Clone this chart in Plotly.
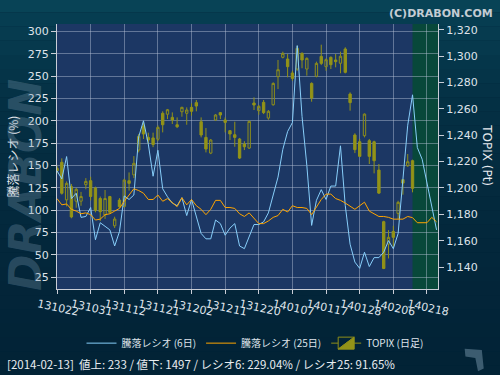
import plotly.graph_objects as go

# ---- data ----
dates = ["131022","131023","131024","131025","131028","131029","131030","131031","131101","131105",
         "131106","131107","131108","131111","131112","131113","131114","131115","131118","131119",
         "131120","131121","131122","131125","131126","131127","131128","131129","131202","131203",
         "131204","131205","131206","131209","131210","131211","131212","131213","131216","131217",
         "131218","131219","131220","131224","131225","131226","131227","131230","140106","140107",
         "140108","140109","140110","140114","140115","140116","140117","140120","140121","140122",
         "140123","140124","140127","140128","140129","140130","140131","140203","140204","140205",
         "140206","140207","140210","140212","140213","140214","140217","140218","140219","140220"]

ratio6 = [144,135,160,113,119,92,93,103,67,86,
          82,78,60,76,116,112,117,182,200,174,
          138,167,124,115,108,105,114,94,112,92,
          74,68,68,89,85,72,80,85,60,57,
          70,84,84,87,97,117,137,168,188,198,
          284,205,150,83,111,123,112,127,127,172,
          105,62,42,35,53,37,47,47,53,66,
          57,74,135,195,229.04,170,157,130,105,78]

ratio25 = [113,106,107,101,99,96,97,95,89,90,
           95,96,99,102,110,117,124,122,119,112,
           112,117,110,113,108,104,114,106,112,105,
           101,95,101,111,111,103,103,102,96,93,
           97,91,85,85,88,92,94,101,98,105,
           103,103,102,95,104,112,118,118,113,111,
           108,104,101,105,109,99,96,93,93,92,
           90,90,90,93,91.65,86,86,86,92,87]

topix_open = [1215,1219.5,1191,1201,1190,1190,1202.5,1205.5,1200,1192,
              1179.5,1193.5,1171.3,1190.8,1186,1205.5,1210,1228.8,1247,1238.4,
              1238,1237,1256.7,1256,1253.6,1248,1257.9,1256.7,1261.2,1264.8,
              1250.3,1238.4,1226.5,1251.6,1257.2,1251.6,1243.5,1240.4,1237.2,1233.4,
              1230.3,1264.5,1258.7,1265,1253.1,1263.2,1284.5,1299.2,1297.9,1287.3,
              1290.3,1302.2,1290.3,1279.4,1284.8,1299.9,1292.1,1299.2,1297.2,1294.7,
              1305.5,1271.3,1240.2,1235.1,1239.7,1235.9,1235.1,1213.6,1174.4,1157.4,
              1167,1180.7,1206.3,1216.9,1220.7]
topix_high = [1217,1222.5,1205,1203,1200,1197,1207.5,1208.5,1201,1193.5,
              1198.5,1194,1178.2,1192.3,1207,1211.8,1224.2,1241,1250.6,1242,
              1242,1247.5,1258.2,1260,1257.4,1253.6,1261.7,1261.2,1264.2,1266.8,
              1253.6,1245.5,1237.2,1256.1,1257.7,1253.6,1244,1250.3,1238,1235.5,
              1251.1,1268.8,1263,1266.8,1259.2,1280.2,1297.2,1303.5,1301.7,1289,
              1308,1303,1299.2,1280.2,1295.9,1308.8,1298.4,1299.9,1301.7,1303.5,
              1306.8,1272.6,1241.5,1237.2,1256.6,1237.2,1235.9,1218.2,1175.1,1168,
              1171.3,1190.3,1206.8,1225.8,1221.5]
topix_low = [1211,1195,1186,1177,1185,1186.5,1199,1190.5,1181.5,1175,
             1176.5,1180.5,1169.6,1185.2,1185.2,1198,1207.5,1227,1237.2,1233.4,
             1231,1235.5,1242.2,1252.3,1248.6,1245.5,1254.1,1248,1254.9,1258.2,
             1238.4,1227,1225.7,1251.1,1252.3,1242.2,1236.4,1231.3,1222,1228.8,
             1229.6,1259.2,1255.6,1256.1,1251.8,1262.5,1275.1,1298.4,1284,1281.4,
             1289,1290.9,1285.3,1265.5,1284,1293.3,1289,1290.3,1291.6,1287.1,
             1287,1258.7,1226.5,1223.7,1238.4,1218.2,1211.1,1195.4,1138.4,1146.5,
             1155.4,1176.4,1194.9,1216,1196.7]
topix_close = [1213,1196,1203.5,1178,1199,1193.5,1205,1193.5,1183,1182,
               1192,1181.5,1176.4,1185.8,1206,1203.5,1218.7,1239.2,1241,1236.4,
               1233,1246,1248,1259.4,1251.6,1246.5,1261.2,1259.2,1258.2,1262.2,
               1240.2,1229.6,1236.4,1255.4,1255.4,1249.8,1241,1238.4,1222.7,1231.3,
               1250.6,1263,1262,1257.2,1258.2,1279.4,1289.8,1302.2,1292.1,1283.2,
               1306,1297.2,1298.4,1268.3,1294.6,1294.6,1297.4,1293.6,1295.9,1300,
               1287.8,1264.8,1229.1,1224,1256.1,1224,1220.7,1196.1,1138.9,1162.5,
               1162.5,1189.1,1203.7,1219.9,1199.7]

tick_idx = list(range(0, 80, 7))
tick_labels = [dates[i] for i in tick_idx]
left_ticks = [25, 50, 75, 100, 125, 150, 175, 200, 225, 250, 275, 300]
right_ticks = [1140, 1160, 1180, 1200, 1220, 1240, 1260, 1280, 1300, 1320]
right_labels = ["{:,}".format(v) for v in right_ticks]
selected_idx = dates.index("140213")

FONT = "DejaVu Sans, Noto Sans CJK JP, sans-serif"
JFONT = "Noto Sans CJK JP, DejaVu Sans, sans-serif"
xs = list(range(len(dates)))
xc = list(range(len(topix_open)))

fig = go.Figure()

fig.add_trace(go.Candlestick(
    x=xc, open=topix_open, high=topix_high, low=topix_low, close=topix_close,
    name="TOPIX (日足)", yaxis="y",
    increasing=dict(line=dict(color="#8e8e1a", width=1), fillcolor="rgba(0,0,0,0)"),
    decreasing=dict(line=dict(color="#939318", width=1), fillcolor="#939318"),
    whiskerwidth=0, legendrank=3,
))
fig.add_trace(go.Scatter(
    x=xs, y=ratio6, mode="lines", name="騰落レシオ (6日)", yaxis="y2",
    line=dict(color="#87cefa", width=1), legendrank=1,
))
fig.add_trace(go.Scatter(
    x=xs, y=ratio25, mode="lines", name="騰落レシオ (25日)", yaxis="y2",
    line=dict(color="#ffa500", width=1), legendrank=2,
))

# background gradient strips
shapes = []
grad = [(0.00, (10, 76, 94)), (0.08, (7, 62, 82)), (0.25, (5, 50, 70)),
        (0.50, (4, 42, 62)), (0.75, (3, 37, 57)), (1.00, (2, 34, 53))]
N = 30
top, bot = 1.15, -0.45
for k in range(N):
    t = (k + 0.5) / N
    for j in range(len(grad) - 1):
        if grad[j][0] <= t <= grad[j + 1][0]:
            a, ca = grad[j]
            b, cb = grad[j + 1]
            f = (t - a) / (b - a)
            col = tuple(int(ca[m] + (cb[m] - ca[m]) * f) for m in range(3))
            break
    shapes.append(dict(type="rect", xref="paper", yref="paper", layer="below",
                       x0=-0.2, x1=1.2, y0=top - k / N * (top - bot), y1=top - (k + 1) / N * (top - bot),
                       fillcolor="rgb(%d,%d,%d)" % col, line=dict(width=0)))
shapes.append(dict(type="rect", xref="x domain", yref="y domain", layer="below",
                   x0=0, x1=1, y0=0, y1=1, fillcolor="#1c3764", line=dict(width=0)))
shapes.append(dict(type="rect", xref="x", yref="y domain", layer="below",
                   x0=selected_idx, x1=79.3, y0=0, y1=1,
                   fillcolor="rgb(8,72,58)", line=dict(width=0)))
# small logo bottom right
shapes.append(dict(type="path", xref="paper", yref="paper", layer="above",
                   path="M 1.07 -0.225 L 1.115 -0.23 L 1.12 -0.3 L 1.105 -0.31 L 1.098 -0.26 L 1.072 -0.255 Z",
                   fillcolor="rgba(110,140,160,0.55)", line=dict(width=0)))

grid_col = "rgba(185,195,215,0.45)"
axis_col = "#c9cdd6"
tick_font = dict(family=FONT, size=11, color="#dfe3ea")

fig.update_layout(
    template="none",
    width=500, height=375,
    margin=dict(l=57, r=62, t=24, b=86, autoexpand=False),
    paper_bgcolor="rgb(3,36,56)",
    plot_bgcolor="rgba(0,0,0,0)",
    shapes=shapes,
    showlegend=True,
    legend=dict(orientation="h", xref="container", yref="container",
                x=0.51, xanchor="center", y=0.085, yanchor="middle",
                font=dict(family=JFONT, size=10, color="#dfe3ea"),
                bgcolor="rgba(0,0,0,0)", borderwidth=0, itemwidth=30),
    xaxis=dict(range=[0, 79.3], tickmode="array", tickvals=tick_idx, ticktext=tick_labels,
               showgrid=True, gridcolor=grid_col, gridwidth=1, zeroline=False,
               showline=True, linecolor=axis_col, linewidth=1, automargin=False,
               ticks="outside", ticklen=4, tickcolor=axis_col,
               tickangle=12, ticklabelshift=-19, tickfont=dict(family=FONT, size=11, color="#dfe3ea"),
               rangeslider=dict(visible=False), fixedrange=True),
    yaxis=dict(side="right", range=[1123.3, 1324.5], tickmode="array",
               tickvals=right_ticks, ticktext=right_labels, automargin=False,
               showgrid=False, zeroline=False, showline=True, linecolor=axis_col,
               ticks="outside", ticklen=5, tickcolor=axis_col, tickfont=tick_font),
    yaxis2=dict(side="left", overlaying="y", range=[11.9, 308.2], tickmode="array",
                tickvals=left_ticks, ticktext=[str(v) for v in left_ticks], automargin=False,
                showgrid=True, gridcolor=grid_col, gridwidth=1, zeroline=False,
                showline=True, linecolor=axis_col, ticks="outside", ticklen=5,
                tickcolor=axis_col, tickfont=tick_font,
                title=dict(text="騰落レシオ (%)", standoff=6,
                           font=dict(family=JFONT, size=12, color="#e6e9ee"))),
)

fig.add_annotation(text="<b><i>DRABON</i></b>", xref="paper", yref="paper",
                   x=-0.084, y=0.392, xanchor="center", yanchor="middle",
                   textangle=-90, showarrow=False,
                   font=dict(family="DejaVu Sans", size=44, color="rgba(120,150,172,0.33)"))
fig.add_annotation(text="TOPIX (Pt)", xref="paper", yref="paper", x=1.128, y=0.506,
                   xanchor="center", yanchor="middle",
                   textangle=90, showarrow=False,
                   font=dict(family=FONT, size=12, color="#e6e9ee"))
fig.add_annotation(text="<b>(C)DRABON.COM</b>", xref="paper", yref="paper",
                   x=1.1496, y=1.0415, xanchor="right", yanchor="middle", showarrow=False,
                   font=dict(family=FONT, size=11, color="#c3ccd4"))
fig.add_annotation(text="[2014-02-13]  値上: 233 / 値下: 1497 / レシオ6: 229.04% / レシオ25: 91.65%",
                   xref="paper", yref="paper", x=-0.1365, y=-0.283, xanchor="left", yanchor="middle",
                   showarrow=False, font=dict(family=JFONT, size=11.5, color="#e8ecf0"))

fig.write_html("out.html", config={"displayModeBar": False},
               post_script="document.body.style.margin='0px';document.body.style.overflow='hidden';")
